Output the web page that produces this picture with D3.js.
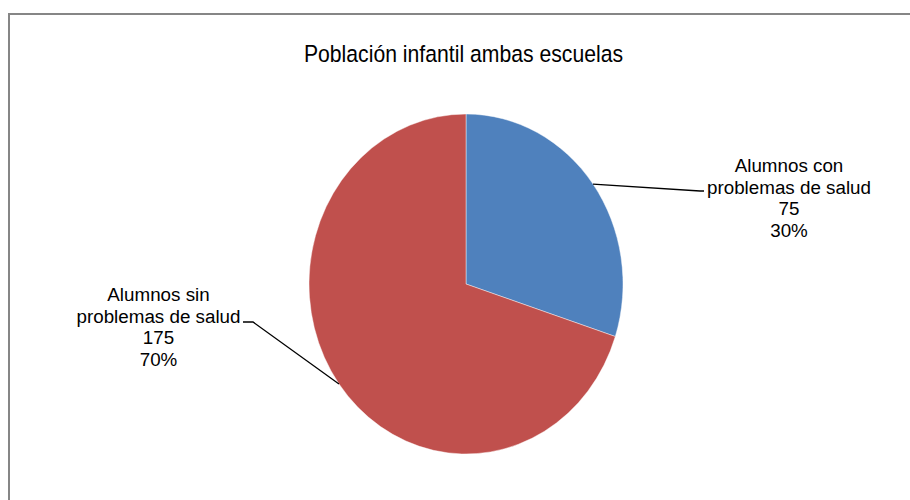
<!DOCTYPE html>
<html>
<head>
<meta charset="utf-8">
<script src="https://cdn.jsdelivr.net/npm/d3@7"></script>
<style>
html,body{margin:0;padding:0;background:#fff;}
svg{display:block;}
text{font-family:"Liberation Sans",Arial,sans-serif;fill:#000;}
</style>
</head>
<body>
<svg id="chart" width="910" height="500"></svg>
<script>
const title = "Población infantil ambas escuelas";
const categories = ["Alumnos con problemas de salud", "Alumnos sin problemas de salud"];
const labelLines = [["Alumnos con", "problemas de salud"], ["Alumnos sin", "problemas de salud"]];
const values = [75, 175];
const colors = ["#4F81BD", "#C0504D"];

const svg = d3.select("#chart");
const cx = 466, cy = 284, R = 170, sx = 157 / 170;

// frame
svg.append("rect").attr("x", 9).attr("y", 14).attr("width", 1000).attr("height", 1000)
  .attr("fill", "#fff").attr("stroke", "#868686").attr("stroke-width", 2);

// title
svg.append("g").attr("transform", `translate(${463.5},${61.7}) scale(1,1.12)`)
  .append("text").attr("text-anchor", "middle").attr("font-size", 21.2).text(title);

const total = d3.sum(values);
const pie = d3.pie().sort(null).value(d => d)(values);
const arc = d3.arc().innerRadius(0).outerRadius(R);

const g = svg.append("g").attr("transform", `translate(${cx},${cy}) scale(${sx},1)`);
g.selectAll("path").data(pie).join("path")
  .attr("d", arc)
  .attr("fill", (d, i) => colors[i])
  .attr("stroke", "rgba(255,255,255,0.55)")
  .attr("stroke-width", 0.8)
  .attr("vector-effect", "non-scaling-stroke");

function edgePoint(d) {
  const a = (d.startAngle + d.endAngle) / 2;
  return [cx + sx * R * Math.sin(a), cy - R * Math.cos(a)];
}

const pct = d3.format(".0%");
// label layout: anchor x, first baseline y, leader elbow and end
const layout = [
  {x: 789, y: 172, ex: 700, ey: 191, tx: 704},
  {x: 158.5, y: 301, ex: 253, ey: 322, tx: 243}
];
const lh = 21.7;

pie.forEach((d, i) => {
  const p = edgePoint(d);
  const L = layout[i];
  svg.append("polyline")
    .attr("points", [p, [L.ex, L.ey], [L.tx, L.ey]].map(q => q.join(",")).join(" "))
    .attr("fill", "none").attr("stroke", "#000").attr("stroke-width", 1.3);
  const lines = [...labelLines[i], String(values[i]), pct(values[i] / total)];
  lines.forEach((t, k) => {
    svg.append("text")
      .attr("x", L.x).attr("y", L.y + k * lh)
      .attr("text-anchor", "middle").attr("font-size", 18.8).text(t);
  });
});
</script>
</body>
</html>
